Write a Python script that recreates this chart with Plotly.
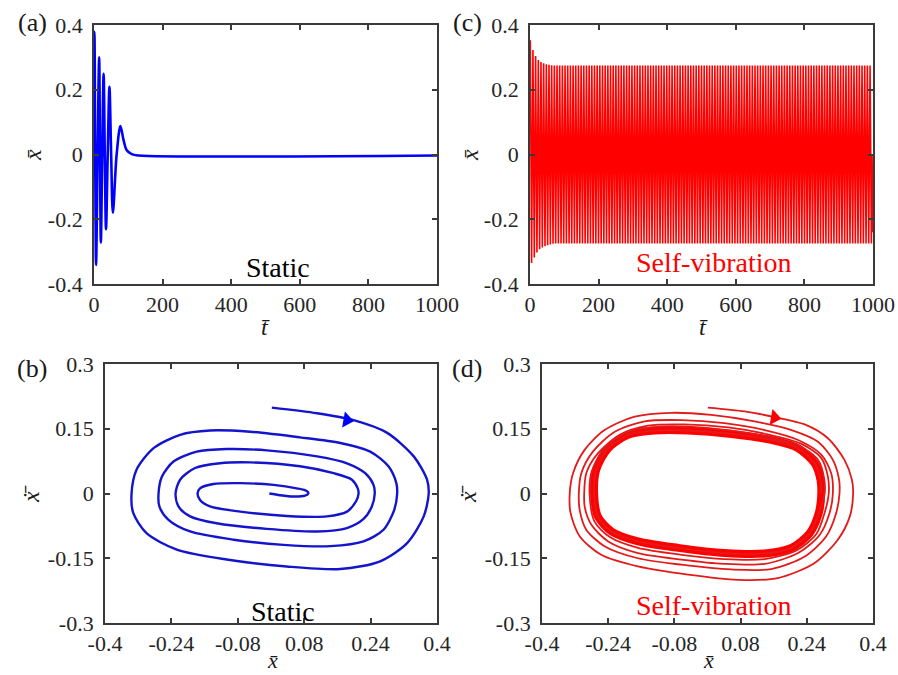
import numpy as np
import plotly.graph_objects as go

# ---------------- data ----------------
# (a) damped response, static case
A_T = [0, 1, 3.5, 6, 10.5, 15, 17.5, 20, 24, 28, 31.5, 35, 40, 45, 50, 55, 66, 77, 86, 95, 110, 130, 1000]
A_X = [0.36, 0.379, 0.0, -0.341, 0.0, 0.30, 0.0, -0.272, 0.0, 0.249, 0.0, -0.231, 0.0, 0.209, 0.0, -0.18,
       0.0, 0.088, 0.045, 0.014, 0.001, -0.003, -0.003]

# (c) self-vibration time history: transient peak values then steady amplitude
C_PERIOD = 7.8
C_PEAKS_UP = [0.353, 0.323, 0.304, 0.292, 0.286, 0.282, 0.279, 0.277, 0.276]
C_PEAKS_LO = [-0.335, -0.318, -0.303, -0.293, -0.287, -0.283, -0.280, -0.278, -0.276]
C_STEADY = 0.275
C_END = -0.24

# (b) phase trajectory, static case (spiral)
B_X = [0.002, 0.111, 0.199, 0.279, 0.344, 0.376, 0.380, 0.368, 0.328, 0.263, 0.167, 0.038, -0.107, -0.227,
       -0.300, -0.332, -0.336, -0.324, -0.283, -0.219, -0.147, -0.050, 0.070, 0.167, 0.239, 0.283, 0.302,
       0.304, 0.297, 0.271, 0.223, 0.143, 0.030, -0.090, -0.195, -0.247, -0.269, -0.271, -0.263, -0.235,
       -0.179, -0.107, -0.010, 0.111, 0.183, 0.227, 0.247, 0.250, 0.243, 0.223, 0.183, 0.111, -0.010,
       -0.131, -0.195, -0.223, -0.230, -0.219, -0.183, -0.123, -0.050, 0.070, 0.151, 0.195, 0.209, 0.211,
       0.205, 0.183, 0.135, 0.038, -0.074, -0.147, -0.171, -0.177, -0.171, -0.139, -0.074, 0.006, 0.062,
       0.086, 0.090, 0.082, 0.054, 0.022, -0.004]
B_V = [0.199, 0.186, 0.170, 0.141, 0.086, 0.032, 0.000, -0.053, -0.115, -0.157, -0.175, -0.169, -0.153,
       -0.130, -0.092, -0.045, 0.000, 0.055, 0.105, 0.136, 0.146, 0.143, 0.130, 0.117, 0.097, 0.063, 0.024,
       0.000, -0.038, -0.084, -0.111, -0.122, -0.119, -0.107, -0.088, -0.061, -0.030, 0.000, 0.039, 0.074,
       0.097, 0.103, 0.100, 0.086, 0.070, 0.047, 0.020, 0.000, -0.030, -0.059, -0.080, -0.088, -0.082,
       -0.069, -0.053, -0.030, 0.000, 0.032, 0.059, 0.070, 0.072, 0.063, 0.047, 0.032, 0.012, 0.000,
       -0.018, -0.042, -0.053, -0.052, -0.042, -0.030, -0.015, 0.000, 0.012, 0.022, 0.024, 0.020, 0.012,
       0.006, 0.000, -0.005, -0.007, -0.004, 0.000]
B_ARROW = (0.183, 0.170)

# (d) phase trajectory, self-vibration: transient loops, then limit cycle
D_X = [0.001, 0.090, 0.162, 0.235, 0.291, 0.331, 0.349, 0.352, 0.344, 0.315, 0.259, 0.170, 0.074, -0.047,
       -0.168, -0.257, -0.309, -0.331, -0.333, -0.325, -0.297, -0.249, -0.176, -0.087, 0.009, 0.114, 0.203,
       0.267, 0.303, 0.318, 0.319, 0.311, 0.287, 0.235, 0.154, 0.058, -0.063, -0.168, -0.249, -0.293,
       -0.309, -0.311, -0.305, -0.277, -0.224, -0.152, -0.063, 0.041, 0.138, 0.219, 0.275, 0.299, 0.303,
       0.295, 0.271, 0.219, 0.138, 0.041, -0.063, -0.168, -0.240, -0.281, -0.297, -0.298, -0.293, -0.265,
       -0.212, -0.144, -0.055, 0.050, 0.146, 0.227, 0.275, 0.291, 0.293, 0.283, 0.263, 0.215, 0.138, 0.041,
       -0.063, -0.168, -0.236, -0.273, -0.285, -0.280, -0.253, -0.204, -0.136, -0.051, 0.054, 0.150, 0.223,
       0.267, 0.282, 0.283]
D_V = [0.199, 0.190, 0.177, 0.160, 0.128, 0.078, 0.032, 0.000, -0.053, -0.107, -0.161, -0.196, -0.200,
       -0.188, -0.169, -0.142, -0.099, -0.045, 0.000, 0.047, 0.101, 0.147, 0.178, 0.187, 0.182, 0.167,
       0.147, 0.120, 0.078, 0.032, 0.000, -0.045, -0.099, -0.146, -0.175, -0.176, -0.165, -0.150, -0.122,
       -0.084, -0.038, 0.000, 0.047, 0.097, 0.143, 0.167, 0.170, 0.163, 0.147, 0.124, 0.090, 0.047, 0.000,
       -0.045, -0.096, -0.138, -0.163, -0.163, -0.153, -0.138, -0.111, -0.072, -0.030, 0.000, 0.047, 0.093,
       0.136, 0.157, 0.160, 0.153, 0.137, 0.115, 0.082, 0.039, 0.000, -0.045, -0.094, -0.132, -0.152,
       -0.152, -0.142, -0.126, -0.101, -0.065, 0.000, 0.051, 0.100, 0.138, 0.153, 0.155, 0.146, 0.130,
       0.110, 0.078, 0.035, 0.000]
LC_X = [0.275, 0.269, 0.247, 0.203, 0.138, 0.041, -0.071, -0.168, -0.232, -0.265, -0.274, -0.269, -0.240,
        -0.192, -0.128, -0.047, 0.058, 0.154, 0.219, 0.259, 0.273, 0.275]
LC_V = [0.000, -0.045, -0.092, -0.126, -0.139, -0.138, -0.126, -0.111, -0.088, -0.053, 0.000, 0.055, 0.105,
        0.136, 0.146, 0.146, 0.138, 0.124, 0.105, 0.070, 0.032, 0.000]
D_ARROW = (0.162, 0.176)

# tick labels
T_TICKS = [0, 200, 400, 600, 800, 1000]
XA_TICKS = [-0.4, -0.2, 0, 0.2, 0.4]
XA_TEXT = ["-0.4", "-0.2", "0", "0.2", "0.4"]
PX_TICKS = [-0.4, -0.24, -0.08, 0.08, 0.24, 0.4]
PX_TEXT = ["-0.4", "-0.24", "-0.08", "0.08", "0.24", "0.4"]
PV_TICKS = [-0.3, -0.15, 0, 0.15, 0.3]
PV_TEXT = ["-0.3", "-0.15", "0", "0.15", "0.3"]

# ---------------- build (c) series from the read peaks ----------------
n_cycles = int(1000 / C_PERIOD)
c_t, c_x = [], []
for k in range(n_cycles):
    up = C_PEAKS_UP[k] if k < len(C_PEAKS_UP) else C_STEADY
    lo = C_PEAKS_LO[k] if k < len(C_PEAKS_LO) else -C_STEADY
    t0 = 0.8 + k * C_PERIOD
    c_t += [t0, t0 + C_PERIOD / 4, t0 + C_PERIOD / 2, t0 + 3 * C_PERIOD / 4]
    c_x += [up, 0.0, lo, 0.0]
c_t.append(1000)
c_x.append(C_END)

W, H = 898, 675
BLUE = "#0000FF"
RED = "#FF0000"
DRED = "#E31A1A"
SERIF = "Liberation Serif"


def dom(a, b, total):
    return [a / total, b / total]


def ydom(top, bottom):
    return [1 - bottom / H, 1 - top / H]


fig = go.Figure()
fig.add_trace(go.Scatter(x=A_T, y=A_X, mode="lines", line=dict(color=BLUE, width=2.6, shape="spline", smoothing=0.9),
                         xaxis="x", yaxis="y", showlegend=False))
fig.add_trace(go.Scatter(x=c_t, y=c_x, mode="lines", line=dict(color=RED, width=1.6),
                         xaxis="x2", yaxis="y2", showlegend=False))
fig.add_trace(go.Scatter(x=B_X, y=B_V, mode="lines", line=dict(color="#1414CC", width=2.4, shape="spline", smoothing=0.8),
                         xaxis="x3", yaxis="y3", showlegend=False))
fig.add_trace(go.Scatter(x=[B_ARROW[0]], y=[B_ARROW[1]], mode="markers",
                         marker=dict(symbol="triangle-right", size=14, angle=10, color=BLUE),
                         xaxis="x3", yaxis="y3", showlegend=False))
fig.add_trace(go.Scatter(x=LC_X, y=LC_V, mode="lines", line=dict(color=RED, width=8, shape="spline", smoothing=0.8),
                         xaxis="x4", yaxis="y4", showlegend=False))
fig.add_trace(go.Scatter(x=D_X + LC_X[1:], y=D_V + LC_V[1:], mode="lines",
                         line=dict(color=DRED, width=1.8, shape="spline", smoothing=0.8),
                         xaxis="x4", yaxis="y4", showlegend=False))
fig.add_trace(go.Scatter(x=[D_ARROW[0]], y=[D_ARROW[1]], mode="markers",
                         marker=dict(symbol="triangle-right", size=14, angle=10, color=RED),
                         xaxis="x4", yaxis="y4", showlegend=False))

axis_common = dict(showline=True, mirror="allticks", linecolor="#3a3a3a", linewidth=1.8,
                   ticks="inside", ticklen=5, tickwidth=1.5, tickcolor="#3a3a3a",
                   showgrid=False, zeroline=False, fixedrange=True, automargin=False,
                   tickfont=dict(family=SERIF, size=22, color="#262626"))

fig.update_layout(
    template="none",
    width=W, height=H, margin=dict(l=0, r=0, t=0, b=0, pad=0),
    paper_bgcolor="white", plot_bgcolor="white",
    font=dict(family=SERIF, size=22, color="#262626"),
    xaxis=dict(domain=dom(94, 437, W), range=[0, 1000], tickvals=T_TICKS, anchor="y", ticklabelstandoff=0, **axis_common),
    yaxis=dict(domain=ydom(25, 284), range=[-0.4, 0.4], tickvals=XA_TICKS, ticktext=XA_TEXT, anchor="x", ticklabelstandoff=5, **axis_common),
    xaxis2=dict(domain=dom(530, 873, W), range=[0, 1000], tickvals=T_TICKS, anchor="y2", ticklabelstandoff=0, **axis_common),
    yaxis2=dict(domain=ydom(25, 284), range=[-0.4, 0.4], tickvals=XA_TICKS, ticktext=XA_TEXT, anchor="x2", ticklabelstandoff=5, **axis_common),
    xaxis3=dict(domain=dom(105, 437, W), range=[-0.4, 0.4], tickvals=PX_TICKS, ticktext=PX_TEXT, anchor="y3", ticklabelstandoff=0, **axis_common),
    yaxis3=dict(domain=ydom(364, 623), range=[-0.3, 0.3], tickvals=PV_TICKS, ticktext=PV_TEXT, anchor="x3", ticklabelstandoff=5, **axis_common),
    xaxis4=dict(domain=dom(542, 873, W), range=[-0.4, 0.4], tickvals=PX_TICKS, ticktext=PX_TEXT, anchor="y4", ticklabelstandoff=0, **axis_common),
    yaxis4=dict(domain=ydom(364, 623), range=[-0.3, 0.3], tickvals=PV_TICKS, ticktext=PV_TEXT, anchor="x4", ticklabelstandoff=5, **axis_common),
)


def txt(x, y, s, size=18, color="#1a1a1a", angle=0, italic=False):
    fig.add_annotation(x=x / W, y=1 - y / H, xref="paper", yref="paper", text=s, showarrow=False,
                       xanchor="center", yanchor="middle", textangle=angle,
                       font=dict(family=SERIF, size=size, color=color,
                                 style="italic" if italic else "normal"))


# panel labels
txt(32, 23, "(a)", 26)
txt(468, 23, "(c)", 26)
txt(32, 368, "(b)", 26)
txt(467, 368, "(d)", 26)

XBAR = "x\u0304"
TBAR = "t\u0304"
XDOTBAR = "x\u0307\u0304"
# axis titles
txt(265, 327, TBAR, 24, italic=True)
txt(703, 327, TBAR, 24, italic=True)
txt(33, 155, XBAR, 24, angle=-90, italic=True)
txt(470, 155, XBAR, 24, angle=-90, italic=True)
txt(272, 660, XBAR, 22, italic=True)
txt(708, 660, XBAR, 22, italic=True)
txt(31, 494, XDOTBAR, 24, angle=-90, italic=True)
txt(468, 494, XDOTBAR, 24, angle=-90, italic=True)

# state labels
txt(278, 267, "Static", 28, color="black")
txt(714, 262, "Self-vibration", 28, color=RED)
txt(283, 611, "Static", 28, color="black")
txt(714, 605, "Self-vibration", 28, color=RED)

fig.write_html("out.html")
